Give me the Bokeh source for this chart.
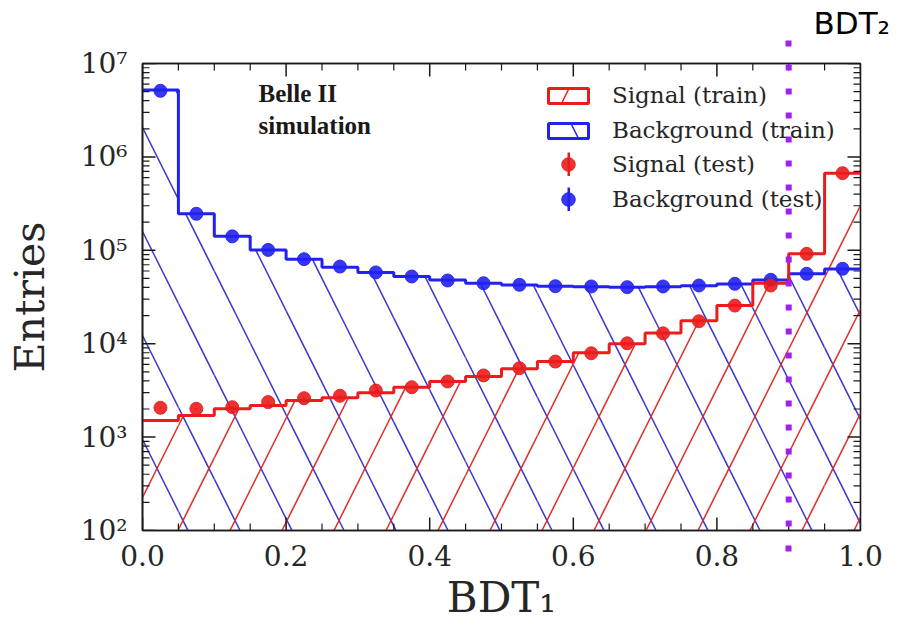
import math

from bokeh.embed import file_html
from bokeh.models import (CustomJSTickFormatter, FixedTicker, Label, Legend,
                          LegendItem, LinearAxis, LogTicker,
                          PrintfTickFormatter, Span, Title)
from bokeh.plotting import figure
from bokeh.resources import INLINE

# ---- histogram data (20 bins over BDT_1 in [0, 1]) -------------------------
edges = [0.00, 0.05, 0.10, 0.15, 0.20, 0.25, 0.30, 0.35, 0.40, 0.45, 0.50,
         0.55, 0.60, 0.65, 0.70, 0.75, 0.80, 0.85, 0.90, 0.95, 1.00]

signal_train = [1510, 1700, 2010, 2180, 2470, 2640, 2980, 3420, 3950, 4460,
                5400, 6440, 8000, 10000, 13000, 17600, 25600, 44400, 91600,
                670000]
background_train = [5200000, 246000, 141000, 101000, 80400, 66000, 58000,
                    52400, 48000, 44400, 42500, 41200, 40800, 40300, 40800,
                    41800, 43600, 48000, 56000, 63000]

signal_test = [2060, 2010, 2090, 2370, 2610, 2770, 3150, 3420, 3940, 4570,
               5470, 6440, 7900, 10100, 12900, 17400, 25600, 42000, 91600,
               670000]
background_test = [5100000, 246000, 141000, 101000, 80400, 67000, 58000,
                   52400, 47500, 44400, 42700, 41300, 41000, 40300, 41000,
                   42000, 43800, 48300, 56000, 63400]

bdt2_cut = 0.9

# axis tick positions
x_ticks = [0.0, 0.2, 0.4, 0.6, 0.8, 1.0]
x_minor = [0.05, 0.10, 0.15, 0.25, 0.30, 0.35, 0.45, 0.50, 0.55, 0.65, 0.70,
           0.75, 0.85, 0.90, 0.95]
y_ticks = [1e2, 1e3, 1e4, 1e5, 1e6, 1e7]
y_minor = [m * 10 ** k for k in range(2, 7) for m in range(2, 10)]

# ---- styling ---------------------------------------------------------------
RED = "#ea1c1c"
BLUE = "#2222f0"
RED_HATCH = "#e42a2a"
BLUE_HATCH = "#3a36d2"
PURPLE = "#a020f0"
INK = "#262626"
SPINE = "#1a1a1a"
SERIF = "DejaVu Serif"
HATCH_SCALE = 104

centers = [(a + b) / 2 for a, b in zip(edges[:-1], edges[1:])]
lefts, rights = edges[:-1], edges[1:]
floor = [1.0] * len(centers)   # below the visible range, so the fill reaches the axis


def step_y(vals):
    return list(vals) + [vals[-1]]


def poisson_band(vals):
    return ([n - math.sqrt(n) for n in vals], [n + math.sqrt(n) for n in vals])


p = figure(width=900, height=630, x_range=(0, 1), y_range=(1e2, 1e7),
           y_axis_type="log", output_backend="svg", toolbar_location=None,
           title=None, min_border_left=142, min_border_right=40,
           min_border_top=63, min_border_bottom=100,
           background_fill_color="white", border_fill_color="white")
p.xgrid.visible = False
p.ygrid.visible = False
p.outline_line_color = SPINE
p.outline_line_width = 1.6

# hatched areas under the training histograms
p.quad(left=lefts, right=rights, bottom=floor, top=background_train,
       fill_color=None, line_color=None, hatch_pattern="\\",
       hatch_color=BLUE_HATCH, hatch_scale=HATCH_SCALE, hatch_weight=1.5)
p.quad(left=lefts, right=rights, bottom=floor, top=signal_train,
       fill_color=None, line_color=None, hatch_pattern="/",
       hatch_color=RED_HATCH, hatch_scale=HATCH_SCALE, hatch_weight=1.5)

# training histogram outlines
p.step(x=edges, y=step_y(background_train), mode="after", line_color=BLUE,
       line_width=3)
p.step(x=edges, y=step_y(signal_train), mode="after", line_color=RED,
       line_width=3)

# test samples with Poisson error bars
bkg_lo, bkg_hi = poisson_band(background_test)
sig_lo, sig_hi = poisson_band(signal_test)
p.segment(x0=centers, x1=centers, y0=bkg_lo, y1=bkg_hi, line_color=BLUE,
          line_width=2)
p.segment(x0=centers, x1=centers, y0=sig_lo, y1=sig_hi, line_color=RED,
          line_width=2)
bkg_pts = p.scatter(x=centers, y=background_test, size=13, fill_color=BLUE,
                    line_color=BLUE, fill_alpha=0.9, line_alpha=0.9)
sig_pts = p.scatter(x=centers, y=signal_test, size=13, fill_color=RED,
                    line_color=RED, fill_alpha=0.9, line_alpha=0.9)

# hidden renderers that only supply the legend swatches
sig_key = p.quad(left=lefts, right=rights, bottom=floor, top=signal_train,
                 fill_color=None, line_color=RED, line_width=3,
                 hatch_pattern="/", hatch_color=RED, hatch_scale=HATCH_SCALE,
                 hatch_weight=1.5, visible=False)
bkg_key = p.quad(left=lefts, right=rights, bottom=floor, top=background_train,
                 fill_color=None, line_color=BLUE, line_width=3,
                 hatch_pattern="\\", hatch_color=BLUE, hatch_scale=HATCH_SCALE,
                 hatch_weight=1.5, visible=False)
# error-bar key: a very short, very thick stroke reads as a vertical bar
sig_bar_key = p.segment(x0=centers, x1=centers, y0=sig_lo, y1=sig_hi,
                        line_color=RED, line_width=24, line_cap="butt",
                        visible=False)
bkg_bar_key = p.segment(x0=centers, x1=centers, y0=bkg_lo, y1=bkg_hi,
                        line_color=BLUE, line_width=24, line_cap="butt",
                        visible=False)

legend_style = dict(label_text_font=SERIF, label_text_font_size="23px",
                    label_text_color=INK, glyph_width=50, label_standoff=19,
                    padding=0, margin=0, border_line_alpha=0,
                    background_fill_alpha=0, inactive_fill_alpha=0)
bar_style = dict(label_text_font_size="1px", glyph_width=3, glyph_height=24,
                 label_standoff=0, padding=0, margin=0, border_line_alpha=0,
                 background_fill_alpha=0, inactive_fill_alpha=0)
p.add_layout(Legend(items=[LegendItem(label=" ", renderers=[sig_bar_key])],
                    location=(425, 354), **bar_style))
p.add_layout(Legend(items=[LegendItem(label=" ", renderers=[bkg_bar_key])],
                    location=(425, 319), **bar_style))

train_legend = Legend(items=[LegendItem(label="Signal (train)", renderers=[sig_key]),
                             LegendItem(label="Background (train)", renderers=[bkg_key])],
                      location=(401, 387), glyph_height=19, spacing=9,
                      **legend_style)
test_legend = Legend(items=[LegendItem(label="Signal (test)", renderers=[sig_pts]),
                            LegendItem(label="Background (test)", renderers=[bkg_pts])],
                     location=(401, 314), glyph_height=34, spacing=1,
                     **legend_style)
p.add_layout(train_legend)
p.add_layout(test_legend)

# inward-pointing tick marks on all four sides of the frame
tick_style = dict(marker="dash", line_color=SPINE)
for size, width, xs in ((26, 1.5, x_ticks), (14, 1.2, x_minor)):
    for edge in (1e2, 1e7):
        p.scatter(x=xs, y=[edge] * len(xs), size=size, angle=math.pi / 2,
                  line_width=width, **tick_style)
for size, width, ys in ((26, 1.5, y_ticks), (14, 1.2, y_minor)):
    for edge in (0.0, 1.0):
        p.scatter(x=[edge] * len(ys), y=ys, size=size, line_width=width,
                  **tick_style)

# BDT_2 cut: dotted line through the frame, continued just outside it
p.add_layout(Span(location=bdt2_cut, dimension="height", line_color=PURPLE,
                  line_width=6, line_dash="6 18", line_dash_offset=23))

exp_fmt = CustomJSTickFormatter(code="""
const sup = {'0':'\u2070','1':'\u00b9','2':'\u00b2','3':'\u00b3','4':'\u2074',
             '5':'\u2075','6':'\u2076','7':'\u2077','8':'\u2078','9':'\u2079','-':'\u207b'};
const e = Math.round(Math.log10(tick));
return '10' + String(e).split('').map(c => sup[c]).join('');
""")
blank_fmt = CustomJSTickFormatter(code="return '';")

bottom = p.below[0]
left = p.left[0]

bottom.ticker = FixedTicker(ticks=x_ticks, minor_ticks=[bdt2_cut])
bottom.formatter = PrintfTickFormatter(format="%.1f")
bottom.axis_label = "BDT\u2081"
bottom.major_label_standoff = -7
bottom.axis_label_standoff = 4
bottom.axis_label_text_font_size = "42px"

left.ticker = LogTicker(num_minor_ticks=10)
left.formatter = exp_fmt
left.axis_label = "Entries"
left.major_label_standoff = 15
left.axis_label_standoff = 24
left.axis_label_text_font_size = "41px"
left.minor_tick_in = 0
left.minor_tick_out = 0

top = LinearAxis(ticker=FixedTicker(ticks=[], minor_ticks=[bdt2_cut]),
                 formatter=blank_fmt, major_label_text_font_size="0px",
                 major_label_standoff=0, axis_label_standoff=0)
p.add_layout(top, "above")

for ax in (bottom, left, top):
    ax.major_tick_in = 0
    ax.major_tick_out = 0
    ax.axis_line_color = SPINE
    ax.axis_line_width = 1.6
    ax.major_label_text_font = SERIF
    ax.major_label_text_color = INK
    ax.axis_label_text_font = SERIF
    ax.axis_label_text_font_style = "normal"
    ax.axis_label_text_color = INK
bottom.major_label_text_font_size = "28px"
left.major_label_text_font_size = "28px"

# the cut line's two dots beyond the frame, drawn as the single minor tick
for ax, length in ((bottom, 21), (top, 23)):
    ax.minor_tick_in = 0
    ax.minor_tick_out = length
    ax.minor_tick_line_color = PURPLE
    ax.minor_tick_line_width = 6
    ax.minor_tick_line_dash = "6 18"
    ax.minor_tick_line_cap = "butt"

p.add_layout(Title(text="BDT\u2082", align="left", offset=671, standoff=0,
                   text_font="DejaVu Sans", text_font_size="31px",
                   text_font_style="normal", text_color="black"), "above")

p.add_layout(Label(x=116, y=451, x_units="screen", y_units="screen",
                   text="Belle II\nsimulation", text_font="Liberation Serif",
                   text_font_style="bold", text_font_size="25px",
                   text_color="#1a1a1a", text_baseline="top"))

open("out.html", "w").write(file_html(p, INLINE))
